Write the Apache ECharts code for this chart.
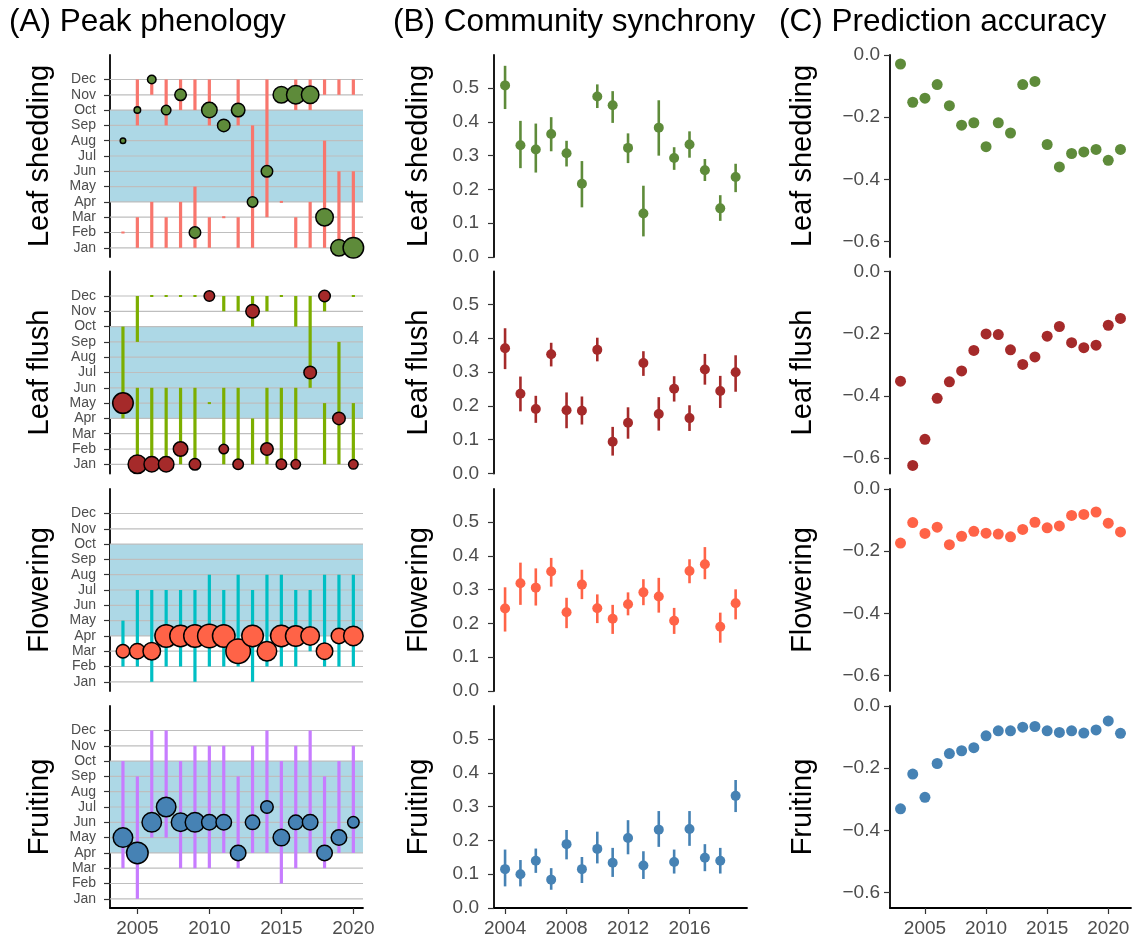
<!DOCTYPE html>
<html>
<head>
<meta charset="utf-8">
<script src="https://cdn.jsdelivr.net/npm/echarts@6/dist/echarts.min.js"></script>
<style>
  html, body { margin: 0; background: #fff; }
  #main { width: 1136px; height: 942px; }
</style>
</head>
<body>
<div id="main"></div>
<script>
    // ---- data ----
    var monthNames = ['Jan','Feb','Mar','Apr','May','Jun','Jul','Aug','Sep','Oct','Nov','Dec'];
    var months = [1,2,3,4,5,6,7,8,9,10,11,12];
    var season = [4, 10];           // shaded season, Apr..Oct
    var phases = ['Leaf shedding', 'Leaf flush', 'Flowering', 'Fruiting'];

    // (A) peak phenology, 2004-2020
    var peakYears = [2004,2005,2006,2007,2008,2009,2010,2011,2012,2013,2014,2015,2016,2017,2018,2019,2020];
    var shedPeak   = [8,10,12,10,11,2,10,9,10,4,6,11,11,11,3,1,1];
    var flushPeak  = [5,1,1,1,2,1,12,2,1,11,2,1,1,7,12,4,1];
    var flowerPeak = [3,3,3,4,4,4,4,4,3,4,3,4,4,4,3,4,4];
    var fruitPeak  = [5,4,6,7,6,6,6,6,4,6,7,5,6,6,4,5,6];
    // share of species peaking (drives circle size)
    var shedShare   = [0.07,0.08,0.10,0.11,0.13,0.13,0.17,0.14,0.15,0.12,0.13,0.18,0.20,0.19,0.19,0.18,0.22];
    var flushShare  = [0.22,0.20,0.17,0.17,0.16,0.13,0.12,0.11,0.12,0.15,0.14,0.12,0.11,0.14,0.13,0.14,0.11];
    var flowerShare = [0.15,0.17,0.19,0.24,0.23,0.24,0.25,0.24,0.26,0.23,0.21,0.23,0.22,0.20,0.18,0.17,0.21];
    var fruitShare  = [0.21,0.23,0.21,0.21,0.20,0.21,0.17,0.17,0.17,0.16,0.14,0.18,0.16,0.17,0.17,0.17,0.13];
    // month ranges [year, from, to]
    var shedRange = [[2004,2,2],[2005,12,9],[2005,3,1],[2006,12,11],[2006,4,1],[2007,12,9],[2007,3,1],
        [2008,12,10],[2008,4,1],[2009,12,10],[2009,5,1],[2010,12,9],[2010,3,1],[2011,3,3],
        [2012,12,9],[2012,3,1],[2013,9,1],[2014,12,3],[2015,4,4],[2016,12,10],[2016,3,1],
        [2017,12,10],[2017,4,1],[2018,12,11],[2018,8,1],[2019,12,11],[2019,6,1],[2020,12,11],[2020,6,1]];
    var flushRange = [[2004,10,4],[2005,12,9],[2005,6,1],[2006,12,12],[2006,6,1],[2007,12,12],[2007,6,1],
        [2008,12,12],[2008,6,1],[2009,12,12],[2009,6,1],[2010,5,5],[2011,12,11],[2011,6,1],
        [2012,12,11],[2012,6,1],[2013,12,10],[2013,4,1],[2014,12,11],[2014,6,1],[2015,12,12],[2015,6,1],
        [2016,12,10],[2016,6,1],[2017,12,6],[2018,12,11],[2018,5,1],[2019,9,1],[2020,12,12],[2020,5,1]];
    var flowerRange = [[2004,5,2],[2005,7,2],[2006,7,1],[2007,7,2],[2008,7,2],[2009,7,1],[2010,8,2],[2011,7,2],
        [2012,8,2],[2013,7,1],[2014,8,2],[2015,8,2],[2016,7,2],[2017,7,3],[2018,8,2],[2019,8,2],[2020,8,2]];
    var fruitRange = [[2004,10,3],[2005,9,1],[2006,12,5],[2007,12,5],[2008,10,3],[2009,11,3],[2010,11,3],[2011,11,4],
        [2012,9,3],[2013,11,4],[2014,12,4],[2015,10,2],[2016,11,3],[2017,12,4],[2018,9,3],[2019,10,4],[2020,11,4]];

    // (B) community synchrony, 2004-2019
    var syncYears = [2004,2005,2006,2007,2008,2009,2010,2011,2012,2013,2014,2015,2016,2017,2018,2019];
    var shedSync   = [0.508,0.331,0.318,0.364,0.307,0.217,0.475,0.449,0.323,0.129,0.383,0.293,0.333,0.257,0.144,0.237];
    var shedLo     = [0.438,0.263,0.250,0.313,0.268,0.147,0.441,0.397,0.278,0.061,0.300,0.258,0.294,0.225,0.107,0.192];
    var shedHi     = [0.566,0.403,0.395,0.414,0.344,0.284,0.511,0.491,0.366,0.211,0.464,0.325,0.372,0.290,0.183,0.276];
    var flushSync  = [0.371,0.236,0.191,0.353,0.187,0.186,0.366,0.094,0.150,0.327,0.176,0.251,0.164,0.308,0.244,0.300];
    var flushLo    = [0.309,0.184,0.150,0.317,0.134,0.145,0.332,0.053,0.103,0.289,0.127,0.213,0.126,0.263,0.194,0.242];
    var flushHi    = [0.430,0.287,0.230,0.387,0.240,0.228,0.402,0.138,0.196,0.362,0.226,0.288,0.202,0.354,0.289,0.350];
    var flowerSync = [0.244,0.319,0.306,0.354,0.233,0.315,0.245,0.214,0.257,0.292,0.280,0.208,0.355,0.375,0.190,0.260];
    var flowerLo   = [0.176,0.255,0.253,0.309,0.186,0.272,0.201,0.169,0.224,0.254,0.232,0.169,0.319,0.331,0.143,0.212];
    var flowerHi   = [0.307,0.380,0.363,0.394,0.276,0.359,0.286,0.255,0.292,0.331,0.335,0.246,0.390,0.426,0.232,0.301];
    var fruitSync  = [0.115,0.100,0.140,0.084,0.189,0.115,0.175,0.134,0.207,0.126,0.232,0.136,0.234,0.149,0.140,0.332];
    var fruitLo    = [0.064,0.064,0.104,0.054,0.144,0.074,0.132,0.092,0.159,0.086,0.181,0.102,0.184,0.109,0.102,0.284];
    var fruitHi    = [0.173,0.142,0.176,0.118,0.231,0.151,0.226,0.178,0.260,0.168,0.287,0.173,0.287,0.189,0.178,0.379];

    // (C) prediction accuracy, 2003-2021
    var accYears = [2003,2004,2005,2006,2007,2008,2009,2010,2011,2012,2013,2014,2015,2016,2017,2018,2019,2020,2021];
    var shedAcc   = [-0.029,-0.152,-0.139,-0.095,-0.163,-0.226,-0.218,-0.295,-0.218,-0.251,-0.095,-0.085,-0.288,-0.360,-0.317,-0.312,-0.304,-0.339,-0.304];
    var flushAcc  = [-0.353,-0.624,-0.540,-0.408,-0.355,-0.320,-0.254,-0.201,-0.203,-0.252,-0.299,-0.275,-0.208,-0.177,-0.229,-0.245,-0.237,-0.173,-0.151];
    var flowerAcc = [-0.174,-0.108,-0.143,-0.123,-0.179,-0.152,-0.136,-0.142,-0.145,-0.154,-0.130,-0.107,-0.125,-0.119,-0.085,-0.082,-0.074,-0.110,-0.138];
    var fruitAcc  = [-0.331,-0.219,-0.294,-0.185,-0.153,-0.144,-0.134,-0.096,-0.080,-0.080,-0.068,-0.066,-0.080,-0.085,-0.080,-0.087,-0.077,-0.048,-0.088];

    var yearTicksA = [2005, 2010, 2015, 2020];
    var yearTicksB = [2004, 2008, 2012, 2016];
    var yearTicksC = [2005, 2010, 2015, 2020];
    var syncTicks = [0, 0.1, 0.2, 0.3, 0.4, 0.5];
    var accTicks = [-0.6, -0.4, -0.2, 0];

    // ---- styling ----
    var FONT = '"Liberation Sans", Arial, sans-serif';
    var pointColors = ['#5E8B3A', '#A52A2A', '#FF6347', '#4682B4'];
    var rangeColors = ['#F8766D', '#7CAE00', '#00BFC4', '#C77CFF'];
    var peaks = [shedPeak, flushPeak, flowerPeak, fruitPeak];
    var shares = [shedShare, flushShare, flowerShare, fruitShare];
    var ranges = [shedRange, flushRange, flowerRange, fruitRange];
    var syncs = [[shedSync, shedLo, shedHi], [flushSync, flushLo, flushHi],
                 [flowerSync, flowerLo, flowerHi], [fruitSync, fruitLo, fruitHi]];
    var accs = [shedAcc, flushAcc, flowerAcc, fruitAcc];

    var colLeft = [110, 494, 890];
    var colWidth = [253, 253, 241];
    var rowTop = [55, 271.5, 489, 706];
    var rowH = 202;
    var xRange = [[2003.1, 2020.67], [2003.28, 2019.74], [2002.14, 2021.86]];
    var xTicks = [yearTicksA, yearTicksB, yearTicksC];
    var yMargin = [14, 15, 10];

    var grids = [], xAxes = [], yAxes = [], series = [];

    function minus(v) { return v.toFixed(1).replace('-', '\u2212'); }

    for (var r = 0; r < 4; r++) {
        for (var c = 0; c < 3; c++) {
            var gi = r * 3 + c;
            var bottom = (r === 3);
            grids.push({ left: colLeft[c], top: rowTop[r], width: colWidth[c], height: rowH });
            xAxes.push({
                gridIndex: gi, type: 'value', min: xRange[c][0], max: xRange[c][1],
                axisLine: { show: bottom, onZero: false, lineStyle: { color: '#000', width: 1.8 } },
                axisTick: { show: bottom, length: 6, customValues: xTicks[c], lineStyle: { color: '#333', width: 1.2 } },
                axisLabel: { show: bottom, customValues: xTicks[c], margin: 11, fontSize: 19, color: '#4D4D4D',
                    fontFamily: FONT, formatter: function (v) { return String(v); } },
                splitLine: { show: false }
            });
            var y = {
                gridIndex: gi, type: 'value',
                axisLine: { show: true, onZero: false, lineStyle: { color: '#000', width: 1.8 } },
                axisTick: { show: true, length: 6, lineStyle: { color: '#333', width: 1.2 } },
                axisLabel: { color: '#4D4D4D', fontFamily: FONT, margin: yMargin[c] },
                splitLine: { show: false }
            };
            if (c === 0) {
                y.min = 0.4; y.max = 13.6;
                y.axisTick.customValues = months;
                y.axisLabel.customValues = months;
                y.axisLabel.fontSize = 14;
                y.axisLabel.formatter = function (v) { return monthNames[Math.round(v) - 1]; };
            } else if (c === 1) {
                y.min = 0; y.max = 0.598;
                y.axisTick.customValues = syncTicks;
                y.axisLabel.customValues = syncTicks;
                y.axisLabel.fontSize = 19;
                y.axisLabel.formatter = function (v) { return v.toFixed(1); };
            } else {
                y.min = -0.65; y.max = 0;
                y.axisTick.customValues = accTicks;
                y.axisLabel.customValues = accTicks;
                y.axisLabel.fontSize = 19;
                y.axisLabel.formatter = minus;
            }
            yAxes.push(y);
        }

        var ga = r * 3, gb = r * 3 + 1, gc = r * 3 + 2;

        // season band
        series.push({
            type: 'custom', xAxisIndex: ga, yAxisIndex: ga, z: 1, silent: true,
            data: [season],
            renderItem: function (params, api) {
                var cs = params.coordSys;
                var y1 = api.coord([xRange[0][0], api.value(1)])[1];
                var y0 = api.coord([xRange[0][0], api.value(0)])[1];
                return { type: 'rect', shape: { x: cs.x, y: y1, width: cs.width, height: y0 - y1 },
                    style: { fill: '#ADD8E6' } };
            }
        });
        // month lines
        series.push({
            type: 'custom', xAxisIndex: ga, yAxisIndex: ga, z: 2, silent: true,
            data: months.map(function (m) { return [m]; }),
            renderItem: function (params, api) {
                var cs = params.coordSys;
                var yy = api.coord([xRange[0][0], api.value(0)])[1];
                return { type: 'line', shape: { x1: cs.x, y1: yy, x2: cs.x + cs.width, y2: yy },
                    style: { stroke: '#BEBEBE', lineWidth: 1.2 } };
            }
        });
        // peak ranges
        (function (col) {
            series.push({
                type: 'custom', xAxisIndex: ga, yAxisIndex: ga, z: 3, silent: true,
                data: ranges[r],
                renderItem: function (params, api) {
                    var p1 = api.coord([api.value(0), api.value(1)]);
                    var p2 = api.coord([api.value(0), api.value(2)]);
                    var top = Math.min(p1[1], p2[1]);
                    var h = Math.abs(p1[1] - p2[1]);
                    if (h < 2) { top -= 1; h = 2; }
                    return { type: 'rect', shape: { x: p1[0] - 1.6, y: top, width: 3.2, height: h },
                        style: { fill: col } };
                }
            });
        })(rangeColors[r]);
        // peak months
        series.push({
            type: 'scatter', xAxisIndex: ga, yAxisIndex: ga, z: 4, silent: true,
            data: peakYears.map(function (yr, i) { return [yr, peaks[r][i], shares[r][i]]; }),
            symbolSize: function (v) { return v[2] * 100 - 1.5; },
            itemStyle: { color: pointColors[r], borderColor: '#000', borderWidth: 1.5, opacity: 1 }
        });

        // synchrony intervals
        (function (col, s) {
            series.push({
                type: 'custom', xAxisIndex: gb, yAxisIndex: gb, z: 3, silent: true,
                data: syncYears.map(function (yr, i) { return [yr, s[1][i], s[2][i]]; }),
                renderItem: function (params, api) {
                    var p1 = api.coord([api.value(0), api.value(1)]);
                    var p2 = api.coord([api.value(0), api.value(2)]);
                    return { type: 'rect', shape: { x: p1[0] - 1.3, y: p2[1], width: 2.6, height: p1[1] - p2[1] },
                        style: { fill: col } };
                }
            });
            series.push({
                type: 'scatter', xAxisIndex: gb, yAxisIndex: gb, z: 4, silent: true,
                data: syncYears.map(function (yr, i) { return [yr, s[0][i]]; }),
                symbolSize: 10,
                itemStyle: { color: col, opacity: 1 }
            });
        })(pointColors[r], syncs[r]);

        // prediction accuracy
        series.push({
            type: 'scatter', xAxisIndex: gc, yAxisIndex: gc, z: 4, silent: true,
            data: accYears.map(function (yr, i) { return [yr, accs[r][i]]; }),
            symbolSize: 11,
            itemStyle: { color: pointColors[r], opacity: 1 }
        });
    }

    // titles and row labels
    var graphics = [
        { type: 'text', x: 9, y: 22, style: { text: '(A) Peak phenology', fontSize: 31.5, fontFamily: FONT, fill: '#000', align: 'left', verticalAlign: 'middle' } },
        { type: 'text', x: 393, y: 22, style: { text: '(B) Community synchrony', fontSize: 31.5, fontFamily: FONT, fill: '#000', align: 'left', verticalAlign: 'middle' } },
        { type: 'text', x: 779, y: 22, style: { text: '(C) Prediction accuracy', fontSize: 31.5, fontFamily: FONT, fill: '#000', align: 'left', verticalAlign: 'middle' } }
    ];
    var labelX = [40, 419, 803];
    for (var k = 0; k < 4; k++) {
        for (var j = 0; j < 3; j++) {
            graphics.push({
                type: 'text', x: labelX[j], y: rowTop[k] + rowH / 2, rotation: Math.PI / 2,
                style: { text: phases[k], fontSize: 29, fontFamily: FONT, fill: '#000', align: 'center', verticalAlign: 'middle' }
            });
        }
    }

    var myChart = echarts.init(document.getElementById('main'));
    myChart.setOption({
        animation: false,
        backgroundColor: '#fff',
        grid: grids,
        xAxis: xAxes,
        yAxis: yAxes,
        graphic: graphics,
        series: series
    });
</script>
</body>
</html>
